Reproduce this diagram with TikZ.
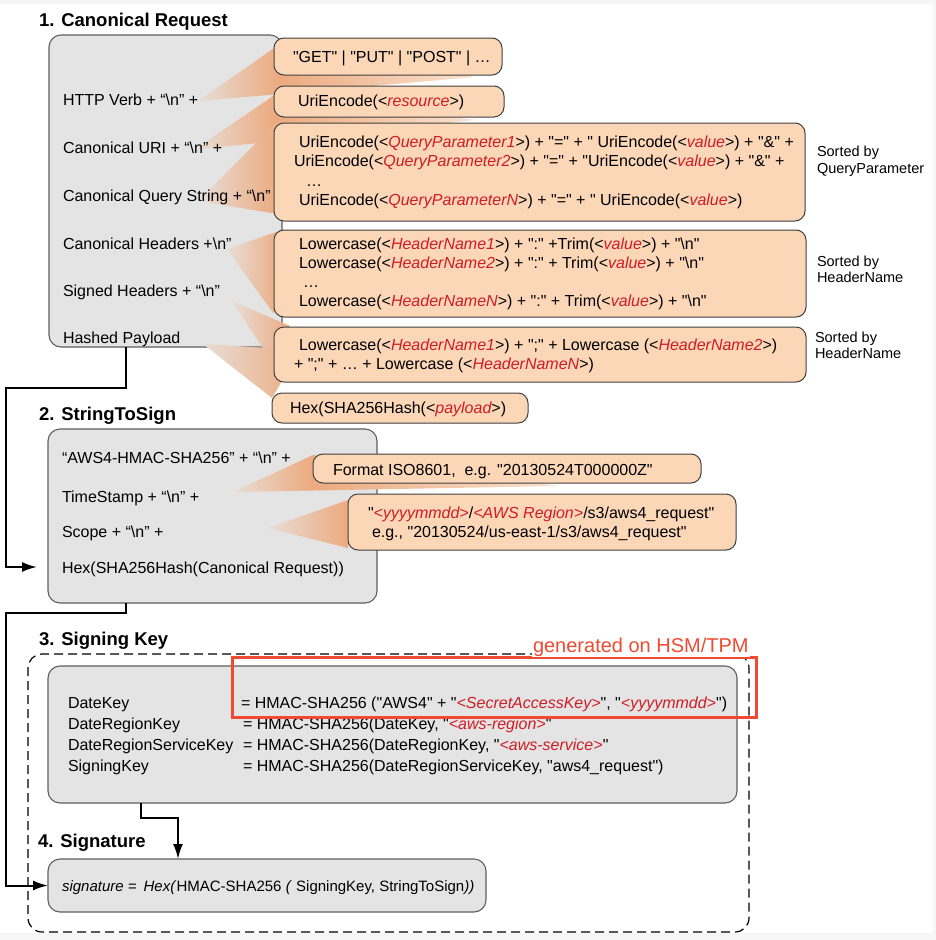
\documentclass[tikz,border=0pt]{standalone}
\usepackage{fontspec}
\setmainfont{Liberation Sans}[Ligatures=TeXOff]
\usetikzlibrary{arrows.meta,calc}
\definecolor{gfill}{HTML}{E4E4E4}
\definecolor{gline}{HTML}{5F5F5F}
\definecolor{ofill}{HTML}{FBD6B7}
\definecolor{oline}{HTML}{404040}
\definecolor{phred}{HTML}{D01C24}
\definecolor{hsmred}{HTML}{F04B32}
\definecolor{wl}{HTML}{E8DED8}
\definecolor{wr}{HTML}{ECAA7E}
\definecolor{ws}{HTML}{FAE3D2}
\definecolor{bgg}{HTML}{F6F6F6}
\newcommand\ph[1]{\textcolor{phred}{\itshape #1}}
\newcommand\bs{\textbackslash}
\begin{document}
\begin{tikzpicture}[x=1pt,y=-1pt,
  every node/.style={inner sep=0pt, outer sep=0pt},
  txt/.style={anchor=base west, font=\fontsize{16}{19}\selectfont},
  note/.style={anchor=base west, font=\fontsize{14.5}{17}\selectfont},
  ttl/.style={anchor=base west, font=\fontsize{18.5}{22}\selectfont\bfseries},
  gbox/.style={draw=gline, fill=gfill, line width=1.1pt, rounded corners=12pt, anchor=north west},
  obox/.style={draw=oline, fill=ofill, line width=1pt, rounded corners=10pt, anchor=north west},
  conn/.style={draw=black, line width=2pt, -{Latex[length=15pt,width=10pt]}},
  wedge/.style={left color=wl, right color=wr},
  wstrip/.style={left color=wr, right color=ws},
]
\useasboundingbox (0,0) rectangle (936,940);
\fill[bgg] (0,0) rectangle (936,940);
\fill[white] (0,4) rectangle (933,933);

% ---------- 1. Canonical Request ----------
\node[ttl] (t1) at (39,26) {1. Canonical Request};
\node[gbox, minimum width=233pt, minimum height=312pt] (b1) at (49,35) {};

% wedges
\shade[wedge] (198,101) -- (280,44) -- (280,94) -- cycle;
\shade[wstrip] (280,44) -- (475,77) -- (280,94) -- cycle;
\shade[wedge] (194,150) -- (276,94) -- (276,141) -- cycle;
\shade[wstrip] (276,94) -- (475,120) -- (276,141) -- cycle;
\shade[wedge] (198,201) -- (278,121) -- (278,214) -- cycle;
\shade[wedge] (227,249) -- (282,230) -- (274,314) -- cycle;
\shade[wedge] (232,301) -- (290,326) -- (270,359) -- cycle;
\shade[wedge] (203,344) -- (300,350) -- (272,398) -- cycle;

\node[txt] (l11) at (63,105.5) {HTTP Verb + “\bs n” +};
\node[txt] (l12) at (63,153.5) {Canonical URI + “\bs n” +};
\node[txt] (l13) at (63,201.5) {Canonical Query String + “\bs n”};
\node[txt] (l14) at (63,249.5) {Canonical Headers +\bs n”};
\node[txt] (l15) at (63,296.5) {Signed Headers + “\bs n”};
\node[txt] (l16) at (63,343.5) {Hashed Payload};

% orange boxes
\node[obox, minimum width=228pt, minimum height=37pt] (get) at (274,38) {};
\node[txt] (gett) at (293,62.5) {"GET" | "PUT" | "POST" | …};
\node[obox, minimum width=230pt, minimum height=31pt] (uri) at (274,86) {};
\node[txt] (urit) at (298,106.5) {UriEncode(<\ph{resource}>)};
\node[obox, minimum width=531pt, minimum height=98pt] (qry) at (274,123) {};
\node[txt] (q1) at (299,147.5) {UriEncode(<\ph{QueryParameter1}>) + "=" + " UriEncode(<\ph{value}>) + "\&" +};
\node[txt] (q2) at (294,166.5) {UriEncode(<\ph{QueryParameter2}>) + "=" + "UriEncode(<\ph{value}>) + "\&" +};
\node[txt] (q3) at (306,186.5) {…};
\node[txt] (q4) at (299,205.5) {UriEncode(<\ph{QueryParameterN}>) + "=" + " UriEncode(<\ph{value}>)};
\node[note] (n1a) at (817,156) {Sorted by};
\node[note] (n1b) at (817,173) {QueryParameter};

\node[obox, minimum width=532pt, minimum height=87pt] (hdr) at (274,230) {};
\node[txt] (h1) at (299,249.5) {Lowercase(<\ph{HeaderName1}>) + ":" +Trim(<\ph{value}>) + "\bs n"};
\node[txt] (h2) at (299,268.5) {Lowercase(<\ph{HeaderName2}>) + ":" + Trim(<\ph{value}>) + "\bs n"};
\node[txt] (h3) at (303,287.5) {…};
\node[txt] (h4) at (299,306.5) {Lowercase(<\ph{HeaderNameN}>) + ":" + Trim(<\ph{value}>) + "\bs n"};
\node[note] (n2a) at (817,266) {Sorted by};
\node[note] (n2b) at (817,282) {HeaderName};

\node[obox, minimum width=532pt, minimum height=55pt] (sgn) at (274,327) {};
\node[txt] (s1) at (299,350.5) {Lowercase(<\ph{HeaderName1}>) + ";" + Lowercase (<\ph{HeaderName2}>)};
\node[txt] (s2) at (294,369.5) {+ ";" + … + Lowercase (<\ph{HeaderNameN}>)};
\node[note] (n3a) at (815,342) {Sorted by};
\node[note] (n3b) at (815,358) {HeaderName};

\node[obox, minimum width=256pt, minimum height=30pt] (hex) at (272,393) {};
\node[txt] (hext) at (290,413.5) {Hex(SHA256Hash(<\ph{payload}>)};

% ---------- 2. StringToSign ----------
\node[ttl] (t2) at (39,420) {2. StringToSign};
\node[gbox, minimum width=329pt, minimum height=174pt] (b2) at (48,429) {};

\shade[wedge] (233,492) -- (313,455) -- (313,490.5) -- cycle;
\shade[wstrip] (313,455) -- (560,486) -- (313,490.5) -- cycle;
\shade[wedge] (268,528) -- (348,500) -- (348,548) -- cycle;

\node[txt] (l21) at (62,463.5) {“AWS4-HMAC-SHA256” + “\bs n” +};
\node[txt] (l22) at (62,502.5) {TimeStamp + “\bs n” +};
\node[txt] (l23) at (62,537.5) {Scope + “\bs n” +};
\node[txt] (l24) at (62,573.5) {Hex(SHA256Hash(Canonical Request))};

\node[obox, minimum width=388pt, minimum height=29pt] (fmt) at (313,454) {};
\node[txt] (fmtt) at (333,475.5) {Format ISO8601,\ \ e.g. "20130524T000000Z"};
\node[obox, minimum width=388pt, minimum height=56pt] (scp) at (348,494) {};
\node[txt] (sc1) at (368,518.5) {"\ph{<yyyymmdd>}/\ph{<AWS Region>}/s3/aws4\_request"};
\node[txt] (sc2) at (372,537.5) {e.g., "20130524/us-east-1/s3/aws4\_request"};

% ---------- 3. Signing Key ----------
\node[ttl] (t3) at (39,645) {3. Signing Key};
\node[draw=black, line width=1.2pt, dash pattern=on 9pt off 5pt, rounded corners=14pt,
      anchor=north west, minimum width=721pt, minimum height=278pt] (dsh) at (28,654) {};
\node[gbox, minimum width=689pt, minimum height=137pt] (b3) at (48,666) {};
\node[txt] (k1a) at (68,708.5) {DateKey};
\node[txt] (k2a) at (68,729.5) {DateRegionKey};
\node[txt] (k3a) at (68,750.5) {DateRegionServiceKey};
\node[txt] (k4a) at (68,771.5) {SigningKey};
\node[txt] (k1b) at (241,708.5) {= HMAC-SHA256 ("AWS4" + "\ph{<SecretAccessKey>}", "\ph{<yyyymmdd>}")};
\node[txt] (k2b) at (243,729.5) {= HMAC-SHA256(DateKey, "\ph{<aws-region>}"};
\node[txt] (k3b) at (243,750.5) {= HMAC-SHA256(DateRegionKey, "\ph{<aws-service>}"};
\node[txt] (k4b) at (243,771.5) {= HMAC-SHA256(DateRegionServiceKey, "aws4\_request")};
\node[draw=hsmred, line width=3pt, anchor=north west, minimum width=524pt, minimum height=60pt] (hsm) at (232,657) {};
\node[anchor=base west, fill=white, inner sep=1pt, text=hsmred, font=\fontsize{20}{24}\selectfont] (hsmt) at (532,652) {generated on HSM/TPM};

% ---------- 4. Signature ----------
\node[ttl] (t4) at (38,847) {4. Signature};
\node[gbox, minimum width=438pt, minimum height=53pt] (sig) at (48,859) {};
\node[txt, font=\fontsize{15}{18}\selectfont] (sigt) at (62,891) {\textit{signature =}\hspace{7pt}\textit{Hex(}HMAC-SHA256 \textit{(} SigningKey, StringToSign\textit{))}};

% ---------- connectors ----------
\coordinate (k1) at (6,388);
\coordinate (e1) at (37,567);
\coordinate (k2) at (6,613);
\draw[conn] ([xshift=77pt]b1.south west) |- (k1) |- (e1);
\draw[conn] ([xshift=78pt]b2.south west) |- (k2) |- (sig.west);
\draw[conn] ([xshift=93pt]b3.south west) -- ++(0,15) -| ([xshift=130pt]sig.north west);
\end{tikzpicture}
\end{document}
